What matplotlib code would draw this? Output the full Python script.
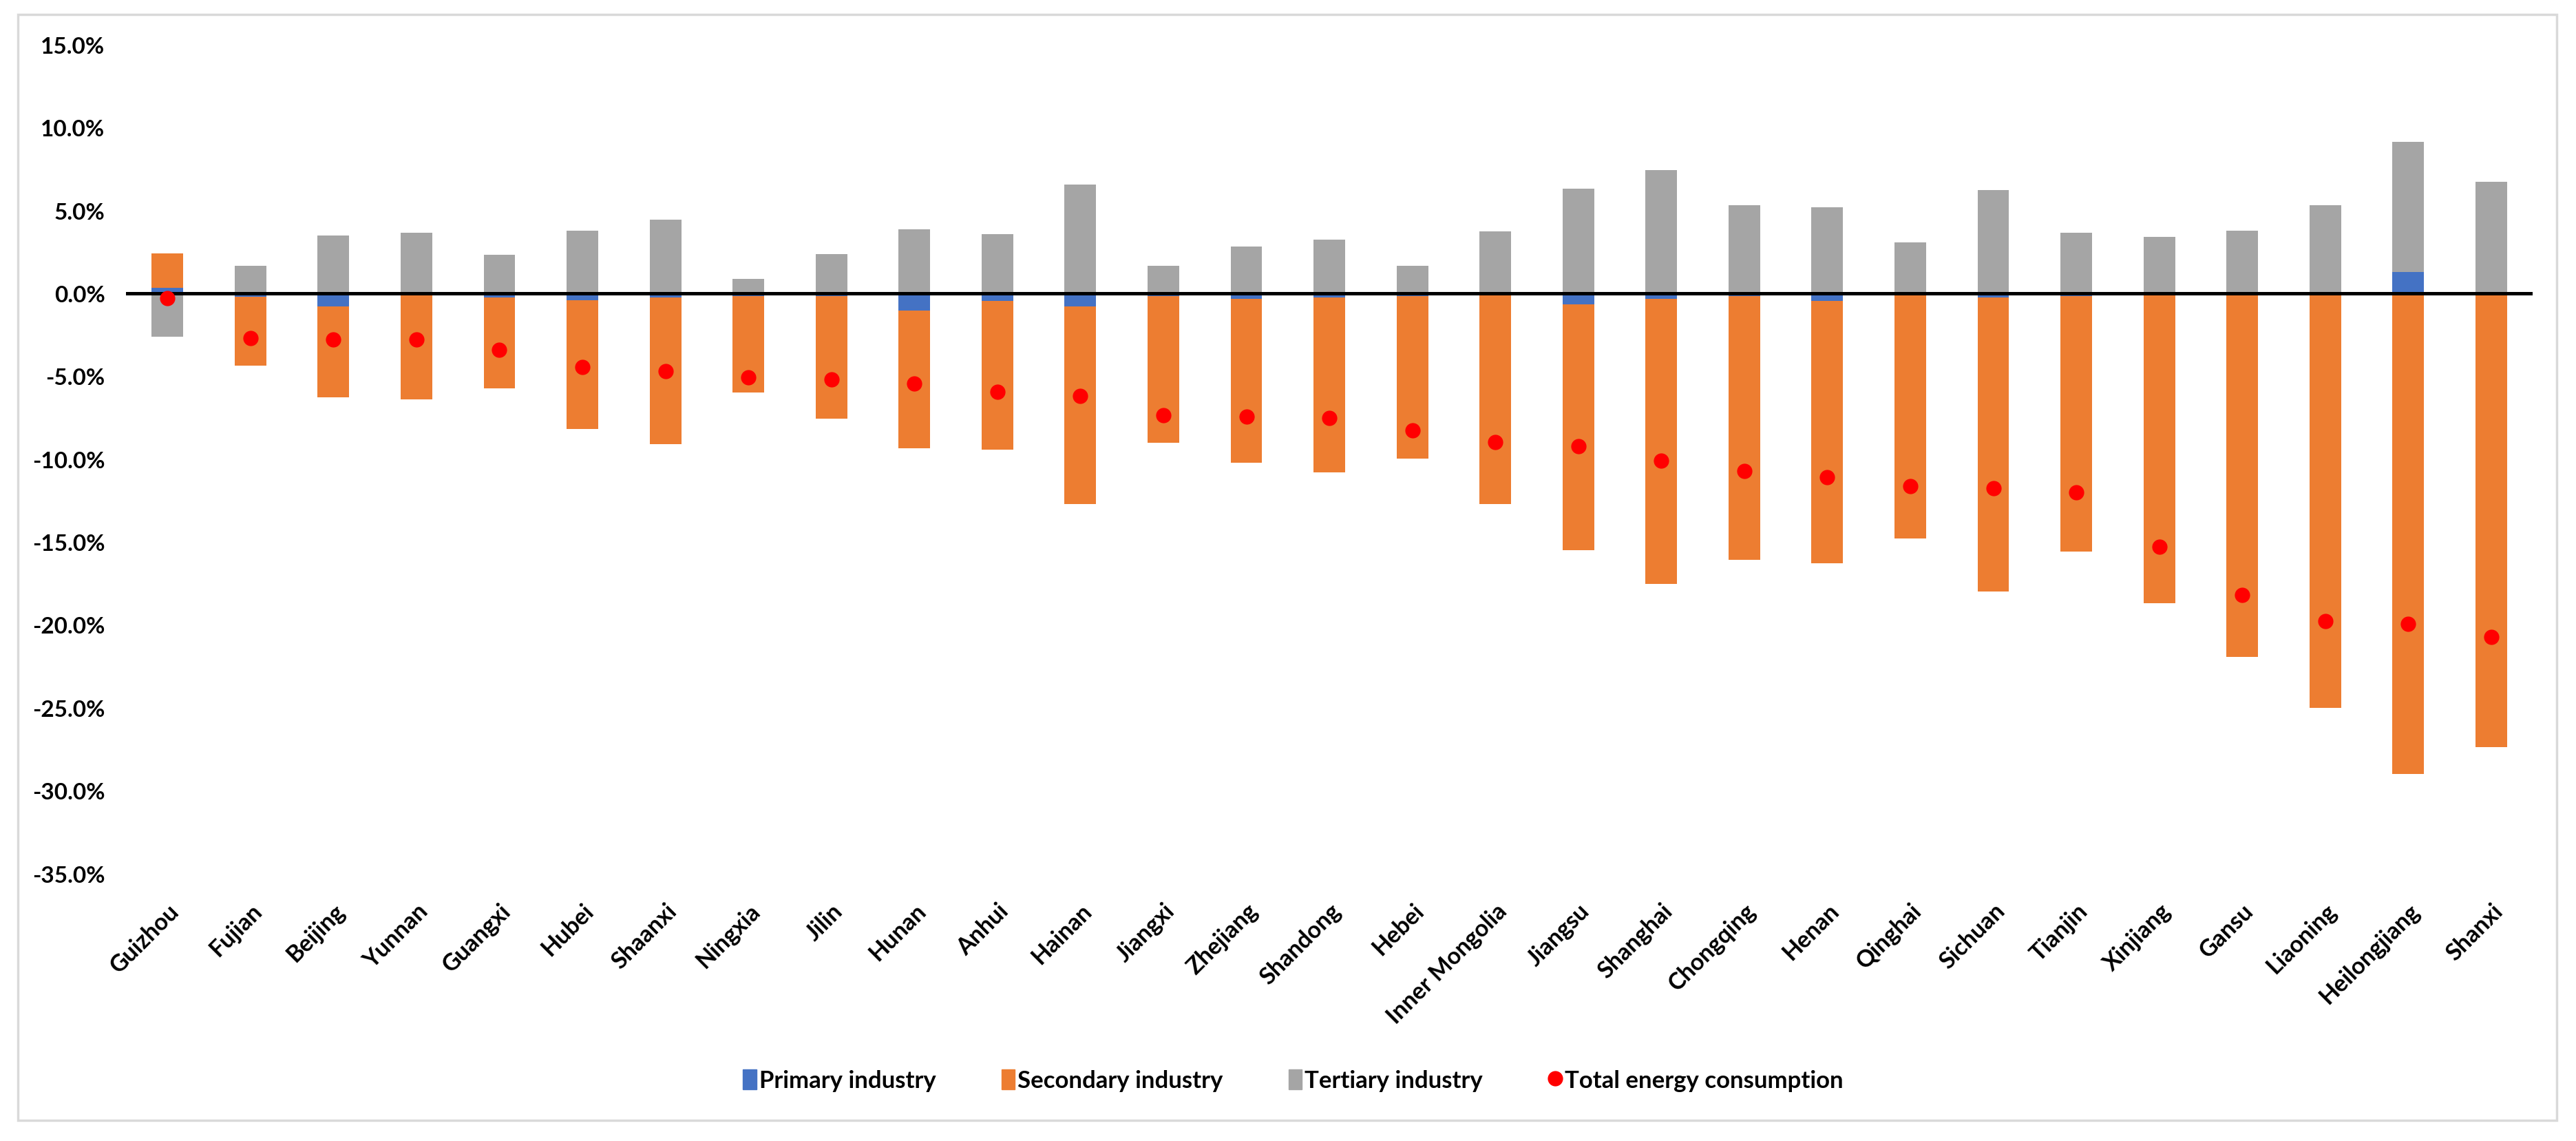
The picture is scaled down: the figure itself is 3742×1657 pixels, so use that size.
import numpy as np
import matplotlib
matplotlib.use("Agg")
from matplotlib import pyplot as plt
from matplotlib.patches import Rectangle
from matplotlib.lines import Line2D

plt.rcParams['font.family'] = ['Lato', 'DejaVu Sans']

# provinces, sorted by total change
provinces = ["Guizhou", "Fujian", "Beijing", "Yunnan", "Guangxi", "Hubei", "Shaanxi",
             "Ningxia", "Jilin", "Hunan", "Anhui", "Hainan", "Jiangxi", "Zhejiang",
             "Shandong", "Hebei", "Inner Mongolia", "Jiangsu", "Shanghai", "Chongqing",
             "Henan", "Qinghai", "Sichuan", "Tianjin", "Xinjiang", "Gansu", "Liaoning",
             "Heilongjiang", "Shanxi"]

# values in percent
primary = [0.35, -0.2, -0.8, -0.05, -0.25, -0.4, -0.25, -0.15, -0.15, -1.04,
           -0.47, -0.8, -0.15, -0.35, -0.25, -0.15, -0.05, -0.66, -0.35, -0.15,
           -0.47, -0.03, -0.25, -0.15, -0.03, 0.0, 0.1, 1.29, 0.0]
secondary = [2.07, -4.14, -5.49, -6.33, -5.47, -7.78, -8.86, -5.82, -7.39, -8.30,
             -8.96, -11.92, -8.88, -9.86, -10.53, -9.81, -12.67, -14.84, -17.19, -15.91,
             -15.83, -14.77, -17.75, -15.42, -18.68, -21.94, -25.0, -29.0, -27.36]
tertiary = [-2.63, 1.67, 3.5, 3.67, 2.31, 3.79, 4.43, 0.89, 2.39, 3.88,
            3.58, 6.57, 1.67, 2.84, 3.26, 1.67, 3.73, 6.31, 7.42, 5.3,
            5.21, 3.09, 6.23, 3.67, 3.41, 3.79, 5.2, 7.84, 6.72]
total = [-0.3, -2.71, -2.78, -2.78, -3.41, -4.45, -4.68, -5.06, -5.21, -5.44,
         -5.93, -6.19, -7.35, -7.42, -7.5, -8.28, -8.98, -9.2, -10.11, -10.7,
         -11.1, -11.65, -11.74, -11.99, -15.28, -18.19, -19.77, -19.92, -20.73]

series_names = ["Primary industry", "Secondary industry", "Tertiary industry"]
series_colors = ["#4472C4", "#ED7D31", "#A5A5A5"]
yticks = [15, 10, 5, 0, -5, -10, -15, -20, -25, -30, -35]
ytick_labels = ["15.0%", "10.0%", "5.0%", "0.0%", "-5.0%", "-10.0%", "-15.0%",
                "-20.0%", "-25.0%", "-30.0%", "-35.0%"]

fig = plt.figure(figsize=(37.42, 16.58), dpi=100)
ax = fig.add_axes([0.0489, 0.2343, 0.9343, 0.7259])

x = np.arange(len(provinces))
pos_base = np.zeros(len(provinces))
neg_base = np.zeros(len(provinces))

# excel style stacking: positives go up, negatives go down
for vals, name, col in zip([primary, secondary, tertiary], series_names, series_colors):
    v = np.array(vals)
    bottom = np.where(v >= 0, pos_base, neg_base)
    ax.bar(x, v, 0.38, bottom=bottom, color=col, label=name, zorder=2)
    pos_base = pos_base + np.where(v >= 0, v, 0)
    neg_base = neg_base + np.where(v < 0, v, 0)

ax.axhline(0, color="black", linewidth=3.6, zorder=3)
ax.plot(x, total, linestyle="none", marker="o", markersize=16, color="#FF0000",
        markeredgewidth=0, zorder=4, label="Total energy consumption")

ax.set_xlim(-0.5, len(provinces) - 0.5)
ax.set_ylim(-35, 15)
ax.set_yticks(yticks)
ax.set_yticklabels(ytick_labels, fontsize=24, fontweight="bold")
ax.set_xticks(x)
ax.set_xticklabels(provinces, fontsize=24.5, fontweight="bold", rotation=45,
                   ha="right", va="top", rotation_mode="anchor")
ax.tick_params(axis="both", length=0)
ax.tick_params(axis="y", pad=22)
ax.tick_params(axis="x", pad=27)
for s in ax.spines.values():
    s.set_visible(False)

handles = [Rectangle((0, 0), 1, 1, color=c) for c in series_colors]
handles.append(Line2D([], [], linestyle="none", marker="o", markersize=16,
                      color="#FF0000", markeredgewidth=0))
leg = fig.legend(handles, series_names + ["Total energy consumption"],
                 loc="center", bbox_to_anchor=(0.502, 1 - 1570 / 1658), ncol=4,
                 frameon=False, handlelength=0.55, handleheight=0.9, handletextpad=0.12,
                 columnspacing=2.75, prop={"size": 25, "weight": "bold"})

# light frame around the whole chart
fig.patches.append(Rectangle((26 / 3742, 1 - 1628 / 1658), (3714 - 26) / 3742,
                             (1628 - 22) / 1658, transform=fig.transFigure,
                             fill=False, edgecolor="#D9D9D9", linewidth=2.5))

fig.savefig("out.png", dpi=100, facecolor="white")
